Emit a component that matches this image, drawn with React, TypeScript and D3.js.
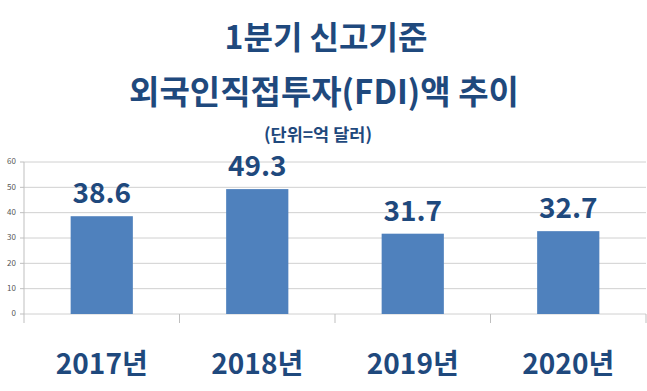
import { useEffect, useRef } from 'react';
import * as d3 from 'd3';

const years = ['2017년', '2018년', '2019년', '2020년'];
const fdi = [38.6, 49.3, 31.7, 32.7];
const yTicks = [0, 10, 20, 30, 40, 50, 60];

const titleLines = ['1분기 신고기준', '외국인직접투자(FDI)액 추이'];
const subtitle = '(단위=억 달러)';

const W = 647;
const H = 391;

export default function App() {
  const svgRef = useRef<SVGSVGElement>(null);

  useEffect(() => {
    if (!svgRef.current) return;
    const svg = d3.select(svgRef.current);
    svg.selectAll('*').remove();

    const margin = { top: 162, right: 1, bottom: 77, left: 24 };
    const innerW = W - margin.left - margin.right;
    const innerH = H - margin.top - margin.bottom;

    const font = "'Noto Sans CJK KR', 'Noto Sans', sans-serif";
    const navy = '#1F497D';
    const barColor = '#4F81BD';

    svg.append('rect').attr('width', W).attr('height', H).attr('fill', '#fff');

    // Titles
    svg.append('text')
      .attr('x', 326).attr('y', 49)
      .attr('text-anchor', 'middle')
      .attr('fill', navy).attr('font-family', font)
      .attr('font-weight', 700).attr('font-size', 32)
      .text(titleLines[0]);
    svg.append('text')
      .attr('x', 324).attr('y', 104)
      .attr('text-anchor', 'middle')
      .attr('fill', navy).attr('font-family', font)
      .attr('font-weight', 700).attr('font-size', 33)
      .text(titleLines[1]);
    svg.append('text')
      .attr('x', 318).attr('y', 141)
      .attr('text-anchor', 'middle')
      .attr('fill', navy).attr('font-family', font)
      .attr('font-weight', 700).attr('font-size', 17.5)
      .text(subtitle);

    const g = svg.append('g').attr('transform', `translate(${margin.left},${margin.top})`);

    const x = d3.scaleBand().domain(years).range([0, innerW]).paddingInner(0.6).paddingOuter(0.3);
    const xOuter = d3.scaleBand().domain(years).range([0, innerW]);
    const y = d3.scaleLinear().domain([0, 60]).range([innerH, 0]);

    // Gridlines
    g.selectAll('line.grid')
      .data(yTicks)
      .join('line')
      .attr('x1', 0).attr('x2', innerW)
      .attr('y1', (d) => y(d)).attr('y2', (d) => y(d))
      .attr('stroke', '#D0D0D0').attr('stroke-width', 1);

    // Y axis
    g.append('line')
      .attr('x1', 0).attr('x2', 0)
      .attr('y1', 0).attr('y2', innerH + 9)
      .attr('stroke', '#BFBFBF');
    g.selectAll('line.ytick')
      .data(yTicks)
      .join('line')
      .attr('x1', -4).attr('x2', 0)
      .attr('y1', (d) => y(d)).attr('y2', (d) => y(d))
      .attr('stroke', '#BFBFBF');
    g.selectAll('text.ylab')
      .data(yTicks)
      .join('text')
      .attr('x', -8).attr('y', (d) => y(d))
      .attr('text-anchor', 'end')
      .attr('dominant-baseline', 'middle')
      .attr('fill', '#555').attr('font-family', font)
      .attr('font-size', 8)
      .text((d) => d);

    // X axis ticks at category boundaries
    g.selectAll('line.xtick')
      .data(years)
      .join('line')
      .attr('x1', (d) => (xOuter(d) ?? 0) + xOuter.bandwidth())
      .attr('x2', (d) => (xOuter(d) ?? 0) + xOuter.bandwidth())
      .attr('y1', innerH).attr('y2', innerH + 9)
      .attr('stroke', '#BFBFBF');

    // Bars
    g.selectAll('rect.bar')
      .data(fdi)
      .join('rect')
      .attr('x', (_, i) => x(years[i]) ?? 0)
      .attr('y', (d) => y(d))
      .attr('width', x.bandwidth())
      .attr('height', (d) => innerH - y(d))
      .attr('fill', barColor);

    // Value labels
    g.selectAll('text.val')
      .data(fdi)
      .join('text')
      .attr('x', (_, i) => (x(years[i]) ?? 0) + x.bandwidth() / 2)
      .attr('y', (d) => y(d) - 13)
      .attr('text-anchor', 'middle')
      .attr('fill', navy).attr('font-family', font)
      .attr('font-weight', 700).attr('font-size', 28)
      .text((d) => d.toFixed(1));

    // Category labels
    g.selectAll('text.cat')
      .data(years)
      .join('text')
      .attr('x', (d) => (x(d) ?? 0) + x.bandwidth() / 2)
      .attr('y', innerH + 60)
      .attr('text-anchor', 'middle')
      .attr('fill', navy).attr('font-family', font)
      .attr('font-weight', 700).attr('font-size', 28)
      .text((d) => d);
  }, []);

  return (
    <div style={{ position: 'absolute', left: 0, top: 0 }}>
      <svg ref={svgRef} width={W} height={H} style={{ display: 'block' }} />
    </div>
  );
}
